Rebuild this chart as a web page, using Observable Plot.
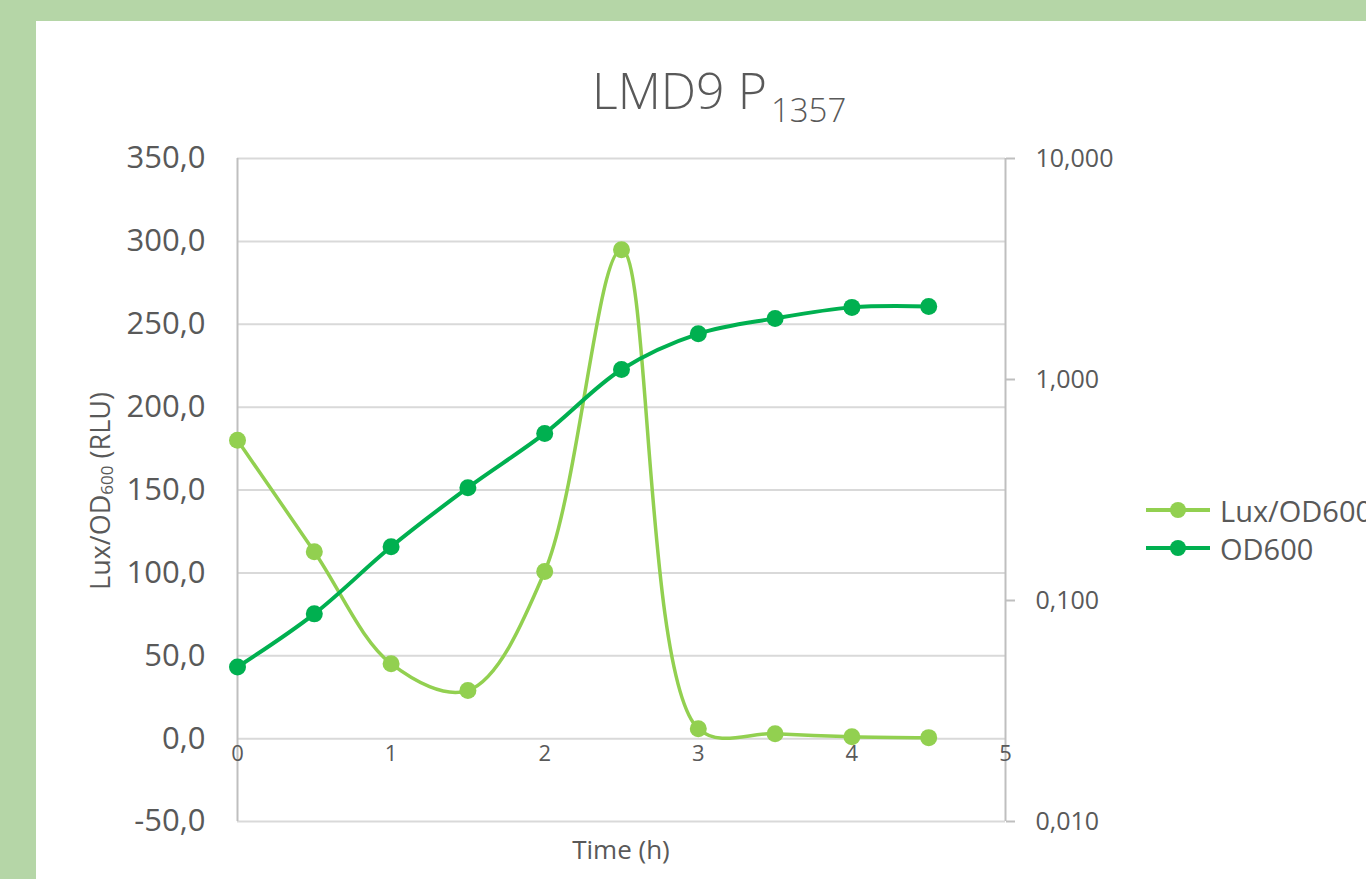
<!DOCTYPE html>
<html>
<head>
<meta charset="utf-8">
<script src="https://cdn.jsdelivr.net/npm/d3@7"></script>
<script src="https://cdn.jsdelivr.net/npm/@observablehq/plot@0.6"></script>
<style>
  html, body { margin: 0; padding: 0; width: 1366px; height: 879px; overflow: hidden; background: #b5d6a7; font-family: "Open Sans", "Noto Sans", sans-serif; }
  #panel { position: absolute; left: 36px; top: 21px; width: 1400px; height: 900px; background: #ffffff; }
  #chart { position: absolute; left: 0; top: 0; }
  .txt { position: absolute; color: #595959; white-space: nowrap; }
  #title { left: 592px; top: 56px; font-size: 50px; font-weight: 300; }
  #title sub { font-size: 33px; vertical-align: -0.4em; line-height: 0; margin-left: 4px; }
  #ylab { left: 99px; top: 491px; font-size: 27px; transform: translate(-50%, -50%) rotate(-90deg); }
  #ylab sub { font-size: 17px; vertical-align: -0.2em; line-height: 0; }
  #xlab { left: 621px; top: 849px; font-size: 26px; transform: translate(-50%, -50%); }
  .leg { position: absolute; left: 1144px; height: 40px; display: flex; align-items: center; font-size: 29px; color: #595959; white-space: nowrap; }
  .leg svg { margin-right: 8px; }
</style>
</head>
<body>
<div id="panel"></div>
<div id="chart"></div>
<div class="txt" id="title">LMD9 P<sub>1357</sub></div>
<div class="txt" id="ylab">Lux/OD<sub>600</sub> (RLU)</div>
<div class="txt" id="xlab">Time (h)</div>
<div class="leg" id="leg1" style="top:490px"></div>
<div class="leg" id="leg2" style="top:528px"></div>
<script>
// ---- data ----
const times = [0, 0.5, 1, 1.5, 2, 2.5, 3, 3.5, 4, 4.5];
const lux = [180, 112.8, 45.2, 29, 100.8, 295, 6, 3, 1.2, 0.6];
const od600 = [0.050, 0.087, 0.175, 0.324, 0.57, 1.11, 1.61, 1.89, 2.12, 2.14];
const leftTicks = [-50, 0, 50, 100, 150, 200, 250, 300, 350];
const rightTicks = [0.01, 0.1, 1, 10];
const xTicks = [0, 1, 2, 3, 4, 5];
const seriesNames = ["Lux/OD600", "OD600"];
const colors = ["#92d050", "#00b050"];

// secondary (log) axis mapped onto primary axis units
const toLeft = v => -50 + (Math.log10(v) + 2) / 3 * 400;
const fromLeft = d => Math.pow(10, (d + 50) * 3 / 400 - 2);

const luxData = times.map((t, i) => ({t, v: lux[i]}));
const odData = times.map((t, i) => ({t, v: od600[i]}));

const fmt1 = d => d.toFixed(1).replace(".", ",");
const fmt3 = d => fromLeft(d).toFixed(3).replace(".", ",");

const chart = Plot.plot({
  width: 1366,
  height: 879,
  marginLeft: 237,
  marginRight: 361,
  marginTop: 158,
  marginBottom: 58,
  style: {background: "transparent", fontFamily: "'Open Sans', 'Noto Sans', sans-serif"},
  x: {domain: [0, 5], axis: null},
  y: {domain: [-50, 350], axis: null},
  marks: [
    Plot.gridY(leftTicks, {stroke: "#d9d9d9", strokeOpacity: 1, strokeWidth: 2}),
    Plot.ruleX([0, 5], {stroke: "#bfbfbf", strokeWidth: 2}),
    Plot.axisY(leftTicks, {anchor: "left", label: null, tickSize: 0, tickPadding: 32, tickFormat: fmt1, fontSize: 31, fill: "#595959"}),
    Plot.axisY(rightTicks.map(toLeft), {anchor: "right", label: null, tickSize: 9, tickPadding: 21, stroke: "#bfbfbf", strokeWidth: 2, tickFormat: fmt3, fontSize: 25, fill: "#595959"}),
    Plot.text(xTicks, {x: d => d, y: d => 0, dy: 15, text: d => String(d), fontSize: 22, fill: "#595959"}),
    Plot.line(luxData, {x: "t", y: "v", curve: "catmull-rom", stroke: colors[0], strokeWidth: 3.5}),
    Plot.dot(luxData, {x: "t", y: "v", r: 8.5, fill: colors[0]}),
    Plot.line(odData, {x: "t", y: d => toLeft(d.v), curve: "catmull-rom", stroke: colors[1], strokeWidth: 4}),
    Plot.dot(odData, {x: "t", y: d => toLeft(d.v), r: 8.5, fill: colors[1]})
  ]
});
document.getElementById("chart").appendChild(chart);

// legend
["leg1", "leg2"].forEach((id, i) => {
  const el = document.getElementById(id);
  el.innerHTML = `<svg width="68" height="20"><line x1="2" y1="10" x2="66" y2="10" stroke="${colors[i]}" stroke-width="4"/><circle cx="34" cy="10" r="8" fill="${colors[i]}"/></svg><span>${seriesNames[i]}</span>`;
});
</script>
</body>
</html>
